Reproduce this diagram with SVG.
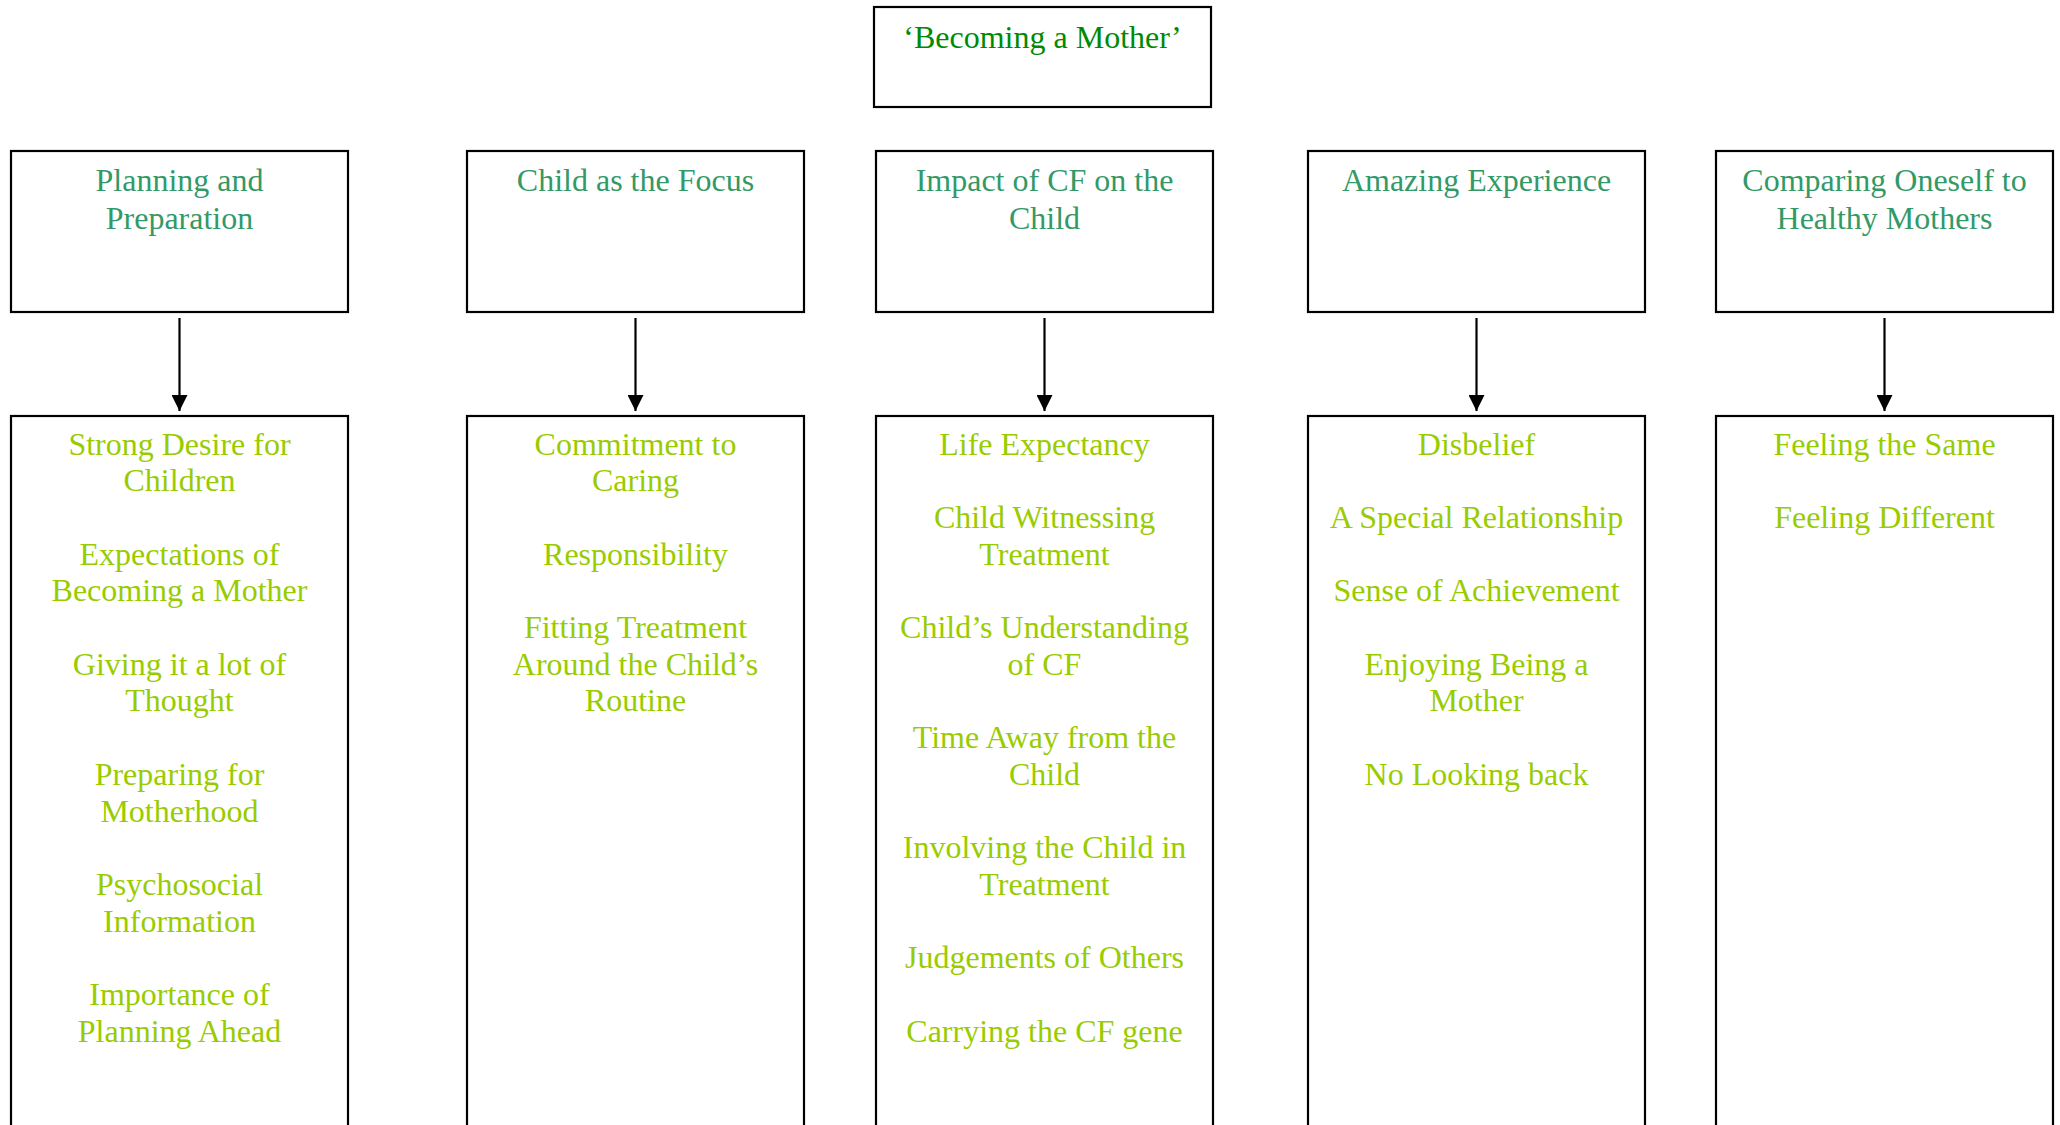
<svg xmlns="http://www.w3.org/2000/svg" width="2060" height="1125" viewBox="0 0 2060 1125">
<style>
.box{fill:#fff;stroke:#000;stroke-width:2.2}
text{font-family:"Liberation Serif","Times New Roman",serif;font-size:32px;text-anchor:middle}
.t0{fill:#008A00}
.t1{fill:#339966}
.t2{fill:#99CC00}
.conn{stroke:#000;stroke-width:2.2;fill:none}
</style>
<defs>
<marker id="ah" markerWidth="16" markerHeight="16" viewBox="0 0 16 16" refX="16" refY="8" orient="auto" markerUnits="userSpaceOnUse">
<path d="M0,0 L16,8 L0,16 Z" fill="#000"/>
</marker>
</defs>
<rect width="2060" height="1125" fill="#fff"/>
<g id="root">
<rect class="box" x="874" y="7" width="337" height="100"/>
<text class="t0" x="1042.5" y="48">‘Becoming a Mother’</text>
</g>
<g id="n1">
<rect class="box" x="11" y="151" width="337" height="161"/>
<text class="t1" x="179.5" y="191">Planning and</text>
<text class="t1" x="179.5" y="228.5">Preparation</text>
</g>
<g id="n2">
<rect class="box" x="467" y="151" width="337" height="161"/>
<text class="t1" x="635.5" y="191">Child as the Focus</text>
</g>
<g id="n3">
<rect class="box" x="876" y="151" width="337" height="161"/>
<text class="t1" x="1044.5" y="191">Impact of CF on the</text>
<text class="t1" x="1044.5" y="228.5">Child</text>
</g>
<g id="n4">
<rect class="box" x="1308" y="151" width="337" height="161"/>
<text class="t1" x="1476.5" y="191">Amazing Experience</text>
</g>
<g id="n5">
<rect class="box" x="1716" y="151" width="337" height="161"/>
<text class="t1" x="1884.5" y="191">Comparing Oneself to</text>
<text class="t1" x="1884.5" y="228.5">Healthy Mothers</text>
</g>
<g id="connectors">
<line class="conn" x1="179.5" y1="318" x2="179.5" y2="411" marker-end="url(#ah)"/>
<line class="conn" x1="635.5" y1="318" x2="635.5" y2="411" marker-end="url(#ah)"/>
<line class="conn" x1="1044.5" y1="318" x2="1044.5" y2="411" marker-end="url(#ah)"/>
<line class="conn" x1="1476.5" y1="318" x2="1476.5" y2="411" marker-end="url(#ah)"/>
<line class="conn" x1="1884.5" y1="318" x2="1884.5" y2="411" marker-end="url(#ah)"/>
</g>
<g id="d1">
<rect class="box" x="11" y="416" width="337" height="740"/>
<text class="t2" x="179.5" y="454.5">Strong Desire for</text>
<text class="t2" x="179.5" y="491.2">Children</text>
<text class="t2" x="179.5" y="564.6">Expectations of</text>
<text class="t2" x="179.5" y="601.3">Becoming a Mother</text>
<text class="t2" x="179.5" y="674.7">Giving it a lot of</text>
<text class="t2" x="179.5" y="711.4">Thought</text>
<text class="t2" x="179.5" y="784.8">Preparing for</text>
<text class="t2" x="179.5" y="821.5">Motherhood</text>
<text class="t2" x="179.5" y="894.9">Psychosocial</text>
<text class="t2" x="179.5" y="931.6">Information</text>
<text class="t2" x="179.5" y="1005">Importance of</text>
<text class="t2" x="179.5" y="1041.7">Planning Ahead</text>
</g>
<g id="d2">
<rect class="box" x="467" y="416" width="337" height="740"/>
<text class="t2" x="635.5" y="454.5">Commitment to</text>
<text class="t2" x="635.5" y="491.2">Caring</text>
<text class="t2" x="635.5" y="564.6">Responsibility</text>
<text class="t2" x="635.5" y="638">Fitting Treatment</text>
<text class="t2" x="635.5" y="674.7">Around the Child’s</text>
<text class="t2" x="635.5" y="711.4">Routine</text>
</g>
<g id="d3">
<rect class="box" x="876" y="416" width="337" height="740"/>
<text class="t2" x="1044.5" y="454.5">Life Expectancy</text>
<text class="t2" x="1044.5" y="527.9">Child Witnessing</text>
<text class="t2" x="1044.5" y="564.6">Treatment</text>
<text class="t2" x="1044.5" y="638">Child’s Understanding</text>
<text class="t2" x="1044.5" y="674.7">of CF</text>
<text class="t2" x="1044.5" y="748.1">Time Away from the</text>
<text class="t2" x="1044.5" y="784.8">Child</text>
<text class="t2" x="1044.5" y="858.2">Involving the Child in</text>
<text class="t2" x="1044.5" y="894.9">Treatment</text>
<text class="t2" x="1044.5" y="968.3">Judgements of Others</text>
<text class="t2" x="1044.5" y="1041.7">Carrying the CF gene</text>
</g>
<g id="d4">
<rect class="box" x="1308" y="416" width="337" height="740"/>
<text class="t2" x="1476.5" y="454.5">Disbelief</text>
<text class="t2" x="1476.5" y="527.9">A Special Relationship</text>
<text class="t2" x="1476.5" y="601.3">Sense of Achievement</text>
<text class="t2" x="1476.5" y="674.7">Enjoying Being a</text>
<text class="t2" x="1476.5" y="711.4">Mother</text>
<text class="t2" x="1476.5" y="784.8">No Looking back</text>
</g>
<g id="d5">
<rect class="box" x="1716" y="416" width="337" height="740"/>
<text class="t2" x="1884.5" y="454.5">Feeling the Same</text>
<text class="t2" x="1884.5" y="527.9">Feeling Different</text>
</g>
</svg>
